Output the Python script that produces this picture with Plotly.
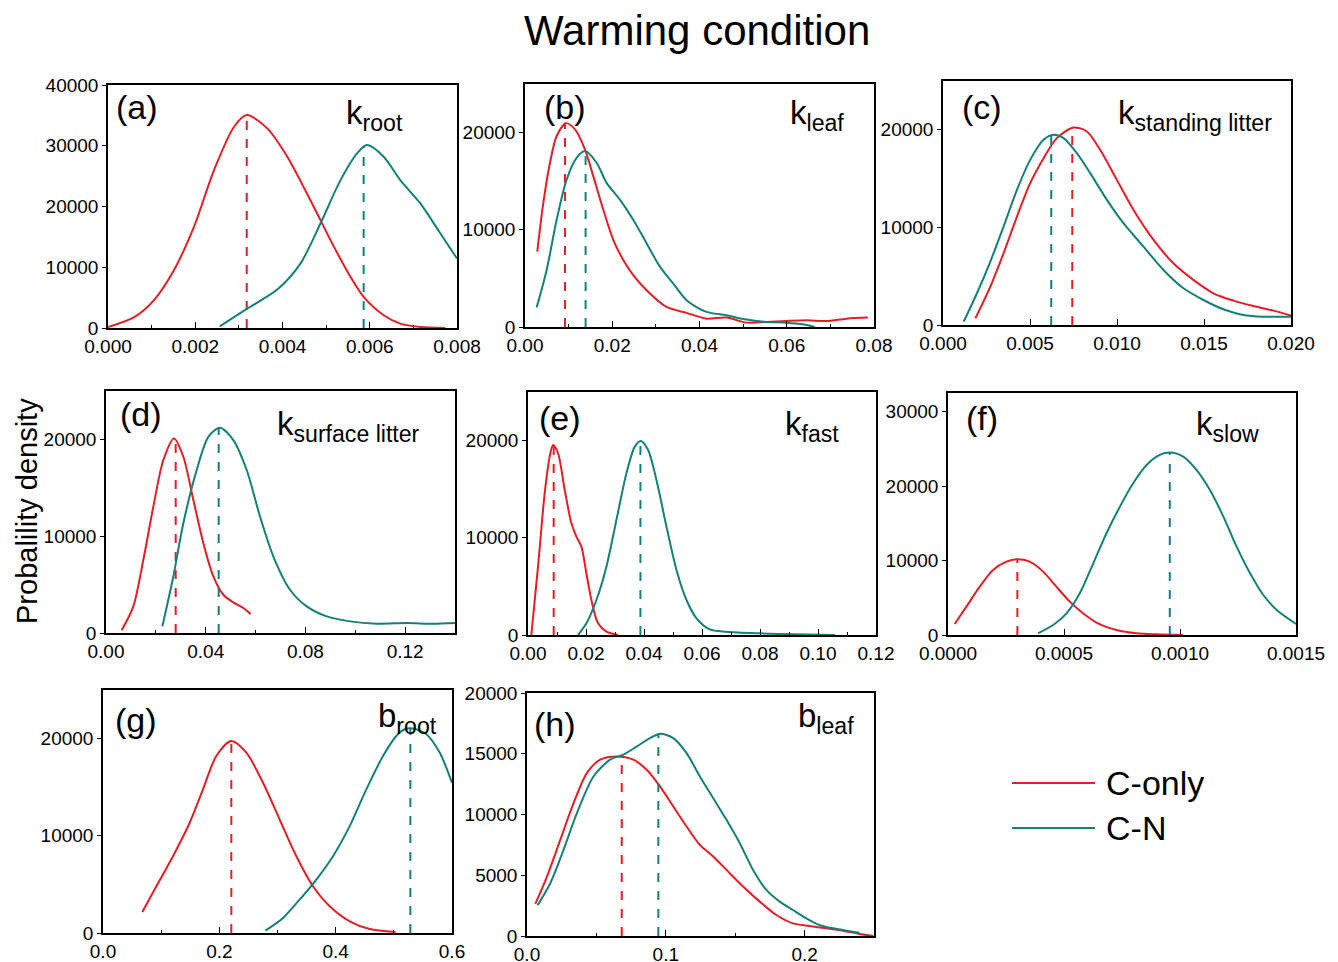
import plotly.graph_objects as go

# ---------------- data ----------------
series_names = ["C-only", "C-N"]
panel_letters = ["(a)", "(b)", "(c)", "(d)", "(e)", "(f)", "(g)", "(h)"]
param_labels = ["k<sub>root</sub>", "k<sub>leaf</sub>", "k<sub>standing litter</sub>",
                "k<sub>surface litter</sub>", "k<sub>fast</sub>", "k<sub>slow</sub>",
                "b<sub>root</sub>", "b<sub>leaf</sub>"]

# (a) k_root
a_conly_x = [0.0, 0.0006, 0.00105, 0.00151, 0.00197, 0.00243, 0.00289, 0.00318, 0.00365, 0.00411,
             0.00456, 0.00487, 0.00518, 0.00556, 0.00586, 0.00632, 0.0067, 0.00716, 0.00773]
a_conly_y = [165, 1800, 4560, 9500, 16650, 26000, 33130, 35050, 32860, 28190,
             22140, 17750, 13350, 8400, 5110, 2090, 714, 165, 0]
a_cn_x = [0.00256, 0.00319, 0.00388, 0.00441, 0.00487, 0.00533, 0.00571, 0.00594, 0.00632,
          0.0067, 0.00716, 0.00762, 0.008]
a_cn_y = [275, 3190, 6320, 10600, 17200, 24340, 28740, 30110, 28190, 24340, 20500, 15550, 11430]
a_modes = [0.00318, 0.00586]
a_mode_y = [35050, 30000]

# (b) k_leaf
b_conly_x = [0.00282, 0.0042, 0.00573, 0.00725, 0.00939, 0.01145, 0.01374, 0.01565, 0.01794,
             0.02023, 0.02252, 0.02481, 0.02786, 0.03244, 0.03702, 0.0416, 0.04618, 0.05076,
             0.05534, 0.05992, 0.0645, 0.0691, 0.0737, 0.0786]
b_conly_y = [7760, 12760, 16900, 19650, 20970, 20340, 18280, 15520, 12070,
             8970, 6900, 5340, 3790, 2070, 1450, 860, 970, 450,
             520, 620, 690, 620, 860, 970]
b_cn_x = [0.00267, 0.00496, 0.00725, 0.00954, 0.01183, 0.01374, 0.01641, 0.0187, 0.02176,
          0.02481, 0.02786, 0.03092, 0.03397, 0.03702, 0.0416, 0.04618, 0.05076, 0.05534,
          0.05992, 0.06374, 0.06641]
b_cn_y = [2000, 5860, 11030, 15170, 17410, 18100, 16900, 14830, 13100,
          11030, 8620, 6210, 4480, 2760, 1550, 1210, 760, 520,
          450, 280, 0]
b_modes = [0.00916, 0.01389]
b_mode_y = [20900, 18000]

# (c) k_standing litter
c_conly_x = [0.00186, 0.00272, 0.00348, 0.00425, 0.00501, 0.00578, 0.00654, 0.0075, 0.00827,
             0.00903, 0.00999, 0.01095, 0.0121, 0.01324, 0.01439, 0.01554, 0.01669, 0.01784,
             0.01899, 0.02]
c_conly_y = [680, 3930, 7350, 11110, 14530, 17090, 19150, 20240, 19830,
             17950, 14870, 11790, 8720, 6320, 4620, 3250, 2500, 1950, 1470, 960]
c_cn_x = [0.00119, 0.00195, 0.00272, 0.00348, 0.00425, 0.00501, 0.00578, 0.00635, 0.00693,
          0.00769, 0.00846, 0.00942, 0.01037, 0.01152, 0.01267, 0.01382, 0.01497, 0.01611,
          0.01726, 0.01841, 0.02]
c_cn_y = [340, 3250, 6500, 10090, 13850, 16920, 18970, 19490, 19150,
          17610, 15560, 12820, 10430, 8030, 5640, 3760, 2560, 1610, 1030, 850, 850]
c_modes = [0.00743, 0.00622]
c_mode_y = [20200, 19400]

# (d) k_surface litter
d_conly_x = [0.00628, 0.01096, 0.01498, 0.01899, 0.023, 0.02728, 0.03102, 0.03504, 0.03905,
             0.04306, 0.04707, 0.05108, 0.05509, 0.05803]
d_conly_y = [275, 2750, 7560, 13060, 17870, 20100, 18210, 13750, 9280,
             5840, 3950, 3160, 2580, 1960]
d_cn_x = [0.0226, 0.02701, 0.03102, 0.03637, 0.04105, 0.04573, 0.05108, 0.05643, 0.06178,
          0.06713, 0.07381, 0.0805, 0.08852, 0.09788, 0.10858, 0.12061, 0.13131, 0.14]
d_cn_y = [690, 5840, 11340, 16840, 20270, 21200, 19930, 16840, 12030,
          7900, 4470, 2750, 1720, 1200, 960, 1030, 960, 1030]
d_modes = [0.02795, 0.0452]
d_mode_y = [20000, 21100]

# (e) k_fast
e_conly_x = [0.00115, 0.00345, 0.00575, 0.00748, 0.00863, 0.01036, 0.01266, 0.01496, 0.01668,
             0.01841, 0.02013, 0.02186, 0.02416, 0.02704, 0.03106]
e_conly_y = [0, 7030, 14580, 18350, 19550, 18700, 14920, 11490, 10120,
             9090, 6350, 3600, 1200, 340, 0]
e_cn_x = [0.01726, 0.02013, 0.02359, 0.02704, 0.03049, 0.03394, 0.03682, 0.03889, 0.04142,
          0.04429, 0.04774, 0.0512, 0.05465, 0.0581, 0.0627, 0.06845, 0.07996, 0.09147, 0.10585]
e_cn_y = [0, 1200, 3600, 7030, 11840, 16640, 19380, 19970, 19040,
          15950, 11150, 6690, 3600, 1720, 580, 340, 170, 70, 0]
e_modes = [0.00886, 0.03877]
e_mode_y = [19500, 19970]

# (f) k_slow
f_conly_x = [0.0000288, 0.0000791, 0.000137, 0.000194, 0.000252, 0.000295, 0.000352, 0.00041,
             0.000467, 0.000525, 0.000582, 0.00064, 0.000726, 0.000813, 0.000899, 0.001014]
f_conly_y = [1480, 3810, 6490, 8730, 9850, 10170, 9850, 8510,
             6490, 4480, 2910, 1660, 670, 220, 90, 0]
f_cn_x = [0.000388, 0.000453, 0.000511, 0.000568, 0.000626, 0.000683, 0.000741, 0.000798,
          0.000856, 0.000913, 0.000956, 0.001014, 0.001071, 0.001129, 0.001187, 0.001244,
          0.001302, 0.001359, 0.001417, 0.0015]
f_cn_y = [220, 1340, 2910, 5600, 9630, 13660, 17240, 20380,
          22840, 24180, 24500, 23960, 22170, 19480, 15900, 11870,
          8280, 5370, 3360, 1480]
f_modes = [0.000299, 0.000956]
f_mode_y = [10170, 24500]

# (g) b_root
g_conly_x = [0.0676, 0.0917, 0.1203, 0.149, 0.1719, 0.1948, 0.2206, 0.2464, 0.2751, 0.3037,
             0.3324, 0.361, 0.3897, 0.4241, 0.4585, 0.5031]
g_conly_y = [2160, 4810, 7900, 11340, 14780, 18210, 19760, 18560, 15460, 11680,
             7900, 4810, 2750, 1200, 410, 100]
g_cn_x = [0.2791, 0.3095, 0.3381, 0.3668, 0.3954, 0.4241, 0.4527, 0.4814, 0.5043, 0.5186,
          0.533, 0.5559, 0.5788, 0.6]
g_cn_y = [240, 1550, 3440, 5500, 7900, 11000, 14780, 18210, 20270, 20960,
          21030, 20450, 18560, 15460]
g_modes = [0.2206, 0.5284]
g_mode_y = [19760, 21000]

# (h) b_leaf
h_conly_x = [0.006, 0.01437, 0.02395, 0.03353, 0.04311, 0.05269, 0.06467, 0.07665, 0.08623,
             0.09581, 0.10539, 0.11497, 0.12455, 0.13413, 0.14371, 0.15569, 0.16766, 0.17964,
             0.19162, 0.2036, 0.21557, 0.22754, 0.23952, 0.24958]
h_conly_y = [2640, 4890, 7910, 10930, 13410, 14510, 14780, 14510, 13680,
             12310, 10660, 9010, 7500, 6540, 5440, 4070, 2830, 1730,
             1040, 820, 630, 440, 160, 0]
h_cn_x = [0.00766, 0.01677, 0.02635, 0.03593, 0.0479, 0.05988, 0.06946, 0.07904, 0.08862,
          0.09581, 0.10539, 0.11497, 0.12455, 0.13413, 0.14371, 0.15329, 0.16287, 0.17246,
          0.18204, 0.19162, 0.2012, 0.21078, 0.22036, 0.22994, 0.23952]
h_cn_y = [2530, 4340, 7090, 10110, 13130, 14510, 14920, 15600, 16290,
          16650, 16290, 15050, 13130, 11350, 9560, 7640, 5440, 3790,
          2830, 2140, 1460, 910, 630, 440, 270]
h_modes = [0.06826, 0.09461]
h_mode_y = [14780, 16600]

x_ranges = [[0, 0.008], [0, 0.08], [0, 0.020], [0, 0.14], [0, 0.12], [0, 0.0015], [0, 0.6], [0, 0.25]]
x_dticks = [0.002, 0.02, 0.005, 0.04, 0.02, 0.0005, 0.2, 0.1]
x_formats = [".3f", ".2f", ".3f", ".2f", ".2f", ".4f", ".1f", ".1f"]
y_ranges = [[0, 40000], [0, 25000], [0, 25000], [0, 25000], [0, 25000], [0, 32500], [0, 25000], [0, 20000]]
y_dticks = [10000, 10000, 10000, 10000, 10000, 10000, 10000, 5000]

panels = [
    (a_conly_x, a_conly_y, a_cn_x, a_cn_y, a_modes, a_mode_y),
    (b_conly_x, b_conly_y, b_cn_x, b_cn_y, b_modes, b_mode_y),
    (c_conly_x, c_conly_y, c_cn_x, c_cn_y, c_modes, c_mode_y),
    (d_conly_x, d_conly_y, d_cn_x, d_cn_y, d_modes, d_mode_y),
    (e_conly_x, e_conly_y, e_cn_x, e_cn_y, e_modes, e_mode_y),
    (f_conly_x, f_conly_y, f_cn_x, f_cn_y, f_modes, f_mode_y),
    (g_conly_x, g_conly_y, g_cn_x, g_cn_y, g_modes, g_mode_y),
    (h_conly_x, h_conly_y, h_cn_x, h_cn_y, h_modes, h_mode_y),
]

# ---------------- layout / style ----------------
W, H = 1338, 962
RED = "#E51E25"
TEAL = "#138079"
colors = [RED, TEAL]
FONT = "Liberation Sans, Arial, sans-serif"

# panel boxes in pixels: (left, right, top, bottom)
boxes = [
    (108, 457, 85, 328), (525, 874, 84, 327), (943, 1291, 81, 325),
    (106, 455, 391, 633), (528, 876, 392, 635), (948, 1296, 393, 635),
    (103, 452, 690, 933), (527, 874, 693, 936),
]
letter_pos = [(114, 107), (542, 107), (960, 107), (118, 414), (537, 418), (964, 418), (113, 720), (532, 724)]
param_pos = [(344, 115), (788, 115), (1116, 115), (275, 426), (783, 426), (1194, 426), (376, 718), (796, 718)]

fig = go.Figure()
layout = dict(
    width=W, height=H, margin=dict(l=0, r=0, t=0, b=0, autoexpand=False),
    paper_bgcolor="white", plot_bgcolor="white", showlegend=False,
    font=dict(family=FONT, color="black"),
)

annotations = []
shapes = []
for i, (cx, cy, nx, ny, modes, mode_y) in enumerate(panels):
    k = i + 1
    xa = "x" if k == 1 else f"x{k}"
    ya = "y" if k == 1 else f"y{k}"
    l, r, t, b = boxes[i]
    for j, (xs, ys) in enumerate([(cx, cy), (nx, ny)]):
        fig.add_trace(go.Scatter(x=xs, y=ys, mode="lines", xaxis=xa, yaxis=ya,
                                 line=dict(color=colors[j], width=2, shape="spline", smoothing=0.8),
                                 name=series_names[j], hoverinfo="skip"))
        fig.add_trace(go.Scatter(x=[modes[j], modes[j]], y=[0, mode_y[j]], mode="lines",
                                 xaxis=xa, yaxis=ya,
                                 line=dict(color=colors[j], width=2, dash="dash"),
                                 hoverinfo="skip"))
    axcommon = dict(showline=True, linecolor="black", linewidth=1.5, mirror=True,
                    showgrid=False, zeroline=False, automargin=False,
                    tickfont=dict(family=FONT, size=19, color="black"))
    layout["xaxis" if k == 1 else f"xaxis{k}"] = dict(
        axcommon, domain=[l / W, r / W], anchor=ya, range=x_ranges[i], dtick=x_dticks[i], tick0=0,
        tickformat=x_formats[i], ticks="inside", ticklen=6, tickcolor="black",
        minor=dict(ticks="inside", ticklen=3, nticks=2, tickcolor="black"))
    layout["yaxis" if k == 1 else f"yaxis{k}"] = dict(
        axcommon, domain=[1 - b / H, 1 - t / H], anchor=xa, range=y_ranges[i], dtick=y_dticks[i], tick0=0,
        tickformat="d", ticks="outside", ticklen=4, tickcolor="black")
    lx, ly = letter_pos[i]
    annotations.append(dict(text=panel_letters[i], x=lx / W, y=1 - ly / H, xref="paper", yref="paper",
                            xanchor="left", yanchor="middle", showarrow=False,
                            font=dict(family=FONT, size=34, color="black")))
    px_, py_ = param_pos[i]
    annotations.append(dict(text=param_labels[i], x=px_ / W, y=1 - py_ / H, xref="paper", yref="paper",
                            xanchor="left", yanchor="middle", showarrow=False,
                            font=dict(family=FONT, size=33, color="black")))

# title and y label
annotations.append(dict(text="Warming condition", x=697 / W, y=1 - 30 / H, xref="paper", yref="paper",
                        xanchor="center", yanchor="middle", showarrow=False,
                        font=dict(family=FONT, size=42, color="black")))
annotations.append(dict(text="Probalility density", x=27 / W, y=1 - 511 / H, xref="paper", yref="paper",
                        xanchor="center", yanchor="middle", textangle=-90, showarrow=False,
                        font=dict(family=FONT, size=29, color="black")))

# legend drawn manually (long line samples)
leg_y = [783, 828]
for j, name in enumerate(series_names):
    shapes.append(dict(type="line", xref="paper", yref="paper",
                       x0=1012 / W, x1=1095 / W, y0=1 - leg_y[j] / H, y1=1 - leg_y[j] / H,
                       line=dict(color=colors[j], width=2)))
    annotations.append(dict(text=name, x=1104 / W, y=1 - leg_y[j] / H, xref="paper", yref="paper",
                            xanchor="left", yanchor="middle", showarrow=False,
                            font=dict(family=FONT, size=34, color="black")))

layout["annotations"] = annotations
layout["shapes"] = shapes
fig.update_layout(**layout)
fig.write_html("out.html", config={"displayModeBar": False},
               post_script="document.body.style.margin='0';document.body.style.overflow='hidden';")
